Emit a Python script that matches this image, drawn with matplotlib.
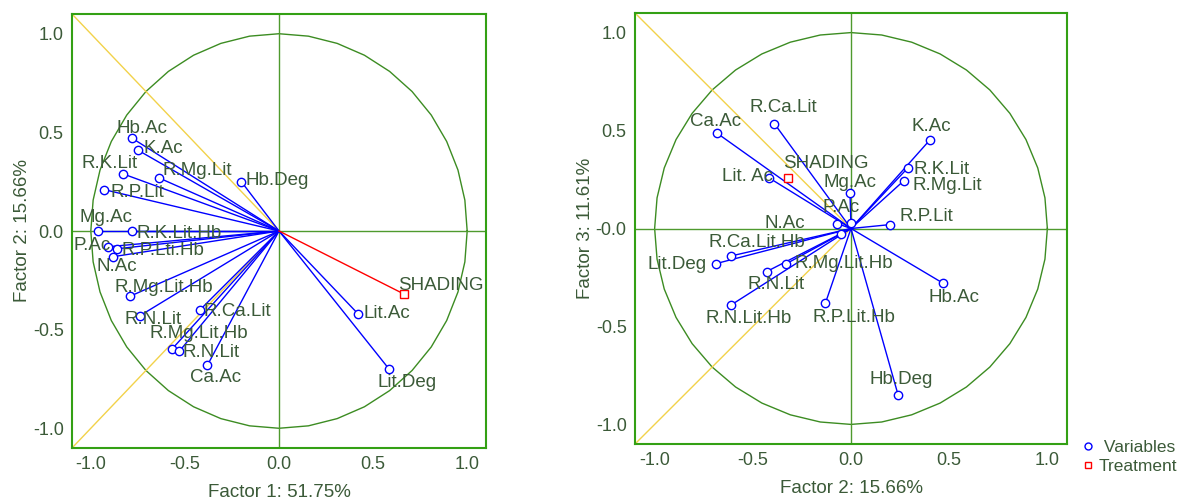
import numpy as np
import matplotlib.pyplot as plt
from matplotlib.lines import Line2D

plt.rcParams['font.family'] = ['Liberation Sans', 'DejaVu Sans']

# --- Factor 1 vs Factor 2 ---
f12_names = ['Hb.Ac', 'K.Ac', 'R.K.Lit', 'R.Mg.Lit', 'Hb.Deg', 'R.P.Lit', 'Mg.Ac',
             'R.K.Lit.Hb', 'P.Ac', 'R.P.Lti.Hb', 'N.Ac', 'R.Mg.Lit.Hb', 'R.N.Lit',
             'R.Ca.Lit', 'R.Mg.Lit.Hb', 'R.N.Lit', 'Ca.Ac', 'Lit.Ac', 'Lit.Deg']
f12_x = [-0.78, -0.75, -0.83, -0.64, -0.20, -0.93, -0.96, -0.78, -0.91, -0.86, -0.88,
         -0.79, -0.74, -0.42, -0.57, -0.53, -0.38, 0.42, 0.585]
f12_y = [0.47, 0.41, 0.29, 0.27, 0.25, 0.21, 0.00, 0.00, -0.08, -0.09, -0.13,
         -0.33, -0.43, -0.40, -0.60, -0.61, -0.68, -0.42, -0.70]
f12_treat = 'SHADING'
f12_treat_x = 0.665
f12_treat_y = -0.32

# --- Factor 2 vs Factor 3 ---
f23_names = ['Ca.Ac', 'R.Ca.Lit', 'K.Ac', 'R.K.Lit', 'R.Mg.Lit', 'Lit. Ac', 'Mg.Ac',
             'P.Ac', 'N.Ac', 'R.P.Lit', '', 'R.Ca.Lit.Hb', 'Lit.Deg', 'R.Mg.Lit.Hb',
             'R.N.Lit', 'R.N.Lit.Hb', 'R.P.Lit.Hb', 'Hb.Ac', 'Hb.Deg']
f23_x = [-0.68, -0.39, 0.40, 0.29, 0.27, -0.42, -0.005, 0.00, -0.07, 0.20, -0.05,
         -0.61, -0.69, -0.33, -0.43, -0.61, -0.13, 0.47, 0.24]
f23_y = [0.485, 0.535, 0.45, 0.31, 0.245, 0.26, 0.18, 0.03, 0.025, 0.02, -0.03,
         -0.14, -0.18, -0.18, -0.22, -0.39, -0.38, -0.28, -0.85]
f23_treat = 'SHADING'
f23_treat_x = -0.32
f23_treat_y = 0.26

# label offsets in pixels (dx right, dy up)
f12_offsets = [(10, 10), (25, 2), (-13, 10), (39, 7), (36, 1), (33, -3), (8, 13),
               (47, -3), (-16, 1), (46, -2), (3, -10), (33, 9), (13, -4), (37, -2),
               (27, 16), (32, -1), (8, -12), (29, 0), (18, -13)]
f12_treat_offset = (37, 9)
f23_offsets = [(-2, 12), (9, 16), (2, 14), (34, -2), (43, -5), (-21, 1), (0, 11),
               (-10, 15), (-52, 0), (36, 8), (0, 0), (26, 13), (-38, -1), (58, 0),
               (9, -13), (17, -14), (28, -15), (11, -14), (3, 16)]
f23_treat_offset = (38, 14)

TEXT = '#3b5a38'
FRAME = '#33a014'
AXLINE = '#4f9a2e'
CIRCLE = '#3c8c22'
YELLOW = '#f2d24a'
FS = 13.5


def draw_panel(ax, names, xs, ys, tx, ty, treat, offsets, toffset, treat_line,
               xlabel, ylabel, yticklabels):
    lim = 1.1
    ax.set_xlim(-lim, lim)
    ax.set_ylim(-lim, lim)
    t = np.linspace(0, 2 * np.pi, 41)
    ax.plot(np.cos(t), np.sin(t), color=CIRCLE, lw=1, zorder=1)
    ax.axhline(0, color=AXLINE, lw=1, zorder=1)
    ax.axvline(0, color=AXLINE, lw=1, zorder=1)
    ax.plot([0, -2], [0, 2], color=YELLOW, lw=1, zorder=1)
    ax.plot([0, -2], [0, -2], color=YELLOW, lw=1, zorder=1)

    for name, x, y, off in zip(names, xs, ys, offsets):
        ax.plot([0, x], [0, y], color='blue', lw=1, zorder=2)
        ax.plot(x, y, 'o', ms=6, mfc='white', mec='blue', mew=1, zorder=3)
        if name:
            ax.annotate(name, (x, y), xytext=off, textcoords='offset pixels',
                        ha='center', va='center', fontsize=FS, color=TEXT, zorder=4)
    if treat_line:
        ax.plot([0, tx], [0, ty], color='red', lw=1, zorder=2)
    ax.plot(tx, ty, 's', ms=6, mfc='white', mec='red', mew=1, zorder=3)
    ax.annotate(treat, (tx, ty), xytext=toffset, textcoords='offset pixels',
                ha='center', va='center', fontsize=FS, color=TEXT, zorder=4)

    ticks = [-1.0, -0.5, 0.0, 0.5, 1.0]
    ax.set_xticks(ticks)
    ax.set_xticklabels(['-1.0', '-0.5', '0.0', '0.5', '1.0'])
    ax.set_yticks(ticks)
    ax.set_yticklabels(yticklabels)
    ax.tick_params(length=0, pad=6, labelsize=13, labelcolor=TEXT)
    for s in ax.spines.values():
        s.set_color(FRAME)
        s.set_linewidth(1.5)
    ax.set_xlabel(xlabel, fontsize=FS, color=TEXT, labelpad=8)
    ax.set_ylabel(ylabel, fontsize=FS, color=TEXT, labelpad=1)


fig = plt.figure(figsize=(11.79, 5.01), dpi=100)
ax1 = fig.add_axes([72 / 1179, 53 / 501, 414 / 1179, 434 / 501])
ax2 = fig.add_axes([635 / 1179, 57 / 501, 432 / 1179, 431 / 501])

draw_panel(ax1, f12_names, f12_x, f12_y, f12_treat_x, f12_treat_y, f12_treat,
           f12_offsets, f12_treat_offset, True,
           'Factor 1: 51.75%', 'Factor 2: 15.66%',
           ['-1.0', '-0.5', '0.0', '0.5', '1.0'])
draw_panel(ax2, f23_names, f23_x, f23_y, f23_treat_x, f23_treat_y, f23_treat,
           f23_offsets, f23_treat_offset, False,
           'Factor 2: 15.66%', 'Factor 3: 11.61%',
           ['-1.0', '-0.5', '-0.0', '0.5', '1.0'])

handles = [Line2D([], [], marker='o', ls='', ms=5, mfc='white', mec='blue', mew=1),
           Line2D([], [], marker='s', ls='', ms=5, mfc='white', mec='red', mew=1)]
fig.legend(handles, [' Variables', 'Treatment'], loc='upper left',
           bbox_to_anchor=(1080 / 1179, 1 - 440 / 501), frameon=False,
           handletextpad=0.2, labelspacing=0.2, fontsize=12.5, labelcolor=TEXT,
           handlelength=0.9, borderaxespad=0, borderpad=0)

fig.savefig('out.png', dpi=100)
